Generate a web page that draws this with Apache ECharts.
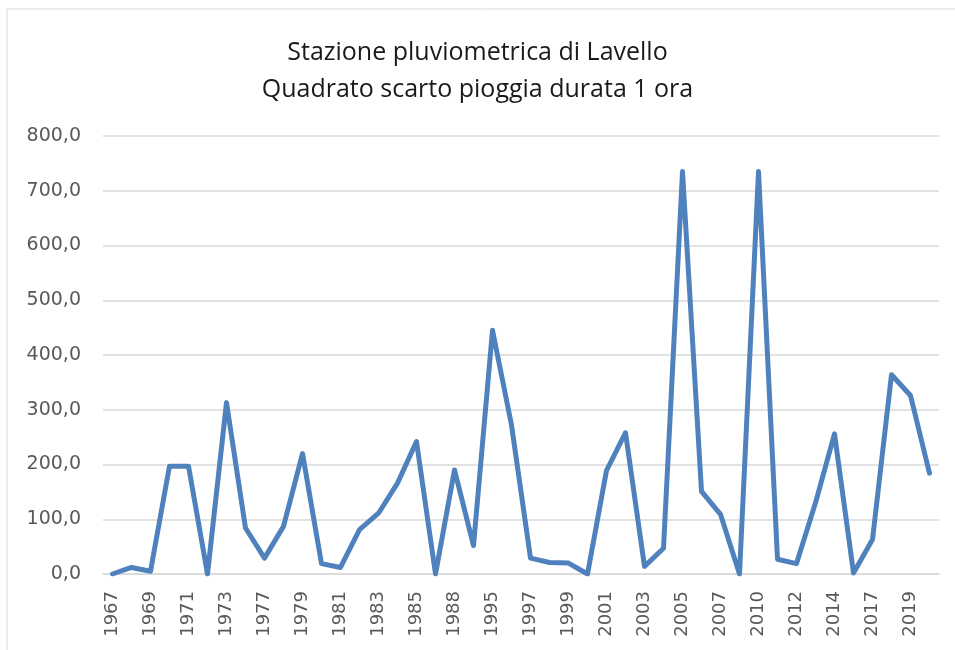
<!DOCTYPE html>
<html>
<head>
<meta charset="utf-8">
<script src="https://cdn.jsdelivr.net/npm/echarts@6/dist/echarts.min.js"></script>
<style>
body{margin:0;background:#fff;}
#main{width:955px;height:650px;}
</style>
</head>
<body>
<div id="main"></div>
<script>
// anni (categorie), alcuni anni mancano nella serie
var anni = ['1967','1968','1969','1970','1971','1972','1973','1974',
    '1977','1978','1979','1980','1981','1982','1983','1984','1985','1986',
    '1988','1989','1995','1996','1997','1998','1999','2000','2001','2002',
    '2003','2004','2005','2006','2007','2008','2010','2011','2012','2013',
    '2014','2015','2017','2018','2019','2020'];

// quadrato scarto pioggia durata 1 ora
var scarto = [0, 12, 5, 197, 197, 0, 313, 84,
    29, 87, 220, 19, 12, 81, 111, 166, 242, 0,
    190, 52, 445, 272, 29, 21, 20, 0, 189, 258,
    14, 47, 735, 151, 109, 0, 735, 27, 19, 130,
    256, 2, 63, 364, 326, 184];

var titolo = 'Stazione pluviometrica di Lavello\nQuadrato scarto pioggia durata 1 ora';

var myChart = echarts.init(document.getElementById('main'));

var option = {
    animation: false,
    title: {
        text: titolo,
        left: 'center',
        top: 29,
        textStyle: {
            fontFamily: 'Open Sans',
            fontSize: 25,
            fontWeight: 'normal',
            color: '#1a1a1a',
            lineHeight: 37
        }
    },
    graphic: [{
        type: 'rect',
        shape: {x: 7, y: 9, width: 960, height: 660},
        style: {fill: 'none', stroke: '#d9d9d9', lineWidth: 1}
    }],
    grid: {
        left: 103,
        right: 16,
        top: 136,
        bottom: 76
    },
    xAxis: {
        type: 'category',
        data: anni,
        boundaryGap: true,
        axisLine: {lineStyle: {color: '#d9d9d9', width: 1.5}},
        axisTick: {show: false},
        axisLabel: {
            interval: 1,
            rotate: 90,
            margin: 17,
            fontFamily: 'DejaVu Sans',
            fontSize: 18,
            color: '#595959'
        }
    },
    yAxis: {
        type: 'value',
        min: 0,
        max: 800,
        interval: 100,
        axisLine: {show: false},
        axisTick: {show: false},
        splitLine: {lineStyle: {color: '#d9d9d9', width: 1.5}},
        axisLabel: {
            margin: 22,
            fontFamily: 'DejaVu Sans',
            fontSize: 19,
            color: '#595959',
            formatter: function (v) {
                return v.toFixed(1).replace('.', ',');
            }
        }
    },
    series: [{
        type: 'line',
        data: scarto,
        symbol: 'none',
        lineStyle: {
            color: '#4f81bd',
            width: 5,
            cap: 'round',
            join: 'round'
        }
    }]
};

myChart.setOption(option);
</script>
</body>
</html>
